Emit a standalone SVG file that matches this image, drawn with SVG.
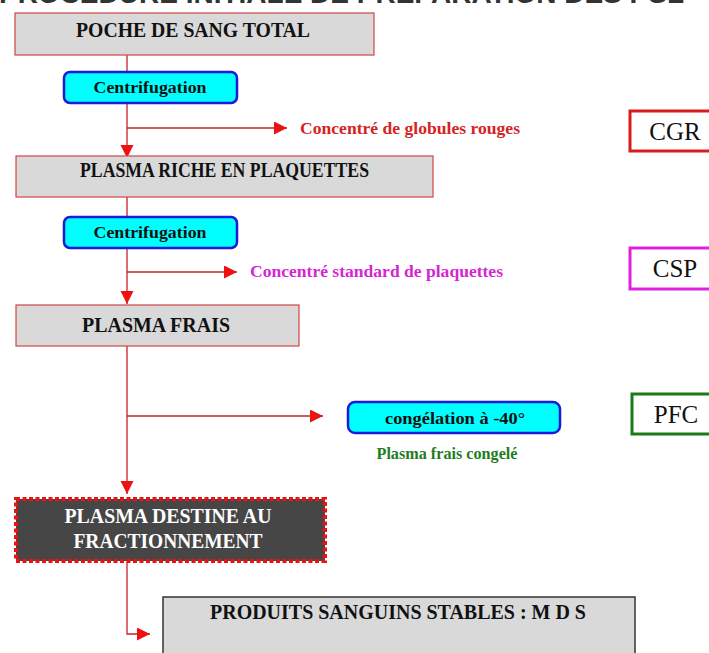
<svg xmlns="http://www.w3.org/2000/svg" width="709" height="653" viewBox="0 0 709 653">
<defs>
<style>
.gbox{fill:#d9d9d9;stroke:#d04545;stroke-width:1.2}
.cyan{fill:#00ffff;stroke:#1a1ad8;stroke-width:2.5}
.t{font-family:"Liberation Serif","Times New Roman",serif;font-weight:bold;fill:#111}
.lbl{font-family:"Liberation Serif","Times New Roman",serif;font-size:25px;fill:#111}
.tag{fill:#ffffff;stroke-width:3}
.conn{fill:none;stroke:#c8202a;stroke-width:1.3}
</style>
<marker id="ah" markerUnits="userSpaceOnUse" markerWidth="14" markerHeight="14" refX="13" refY="6.5" orient="auto">
<path d="M0,0 L13,6.5 L0,13 z" fill="#ee1111"/>
</marker>
</defs>
<rect width="709" height="653" fill="#ffffff"/>
<text x="684" y="3" text-anchor="end" font-family="Liberation Sans, Arial, sans-serif" font-weight="bold" font-size="28" fill="#333">PROCEDURE INITIALE DE PREPARATION DES PSL</text>

<g id="connectors">
<path class="conn" d="M127 55 V158" marker-end="url(#ah)"/>
<path class="conn" d="M127 197 V304" marker-end="url(#ah)"/>
<path class="conn" d="M127 346 V494" marker-end="url(#ah)"/>
<path class="conn" d="M127 128 H287" marker-end="url(#ah)"/>
<path class="conn" d="M127 272 H237" marker-end="url(#ah)"/>
<path class="conn" d="M127 416 H323" marker-end="url(#ah)"/>
<path class="conn" d="M127 562 V634 H150" marker-end="url(#ah)"/>
</g>

<g id="poche">
<rect class="gbox" x="15" y="13" width="359" height="42"/>
<text class="t" x="193" y="37" font-size="21" text-anchor="middle" textLength="234" lengthAdjust="spacingAndGlyphs">POCHE DE SANG TOTAL</text>
</g>

<g id="centrif1">
<rect class="cyan" x="64" y="72" width="173" height="31" rx="6"/>
<text class="t" x="150" y="93" font-size="17.5" text-anchor="middle" textLength="113" lengthAdjust="spacingAndGlyphs">Centrifugation</text>
</g>

<g id="cgr-label">
<text class="t" x="300" y="134" font-size="17.5" style="fill:#d42424" textLength="220" lengthAdjust="spacingAndGlyphs">Concentré de globules rouges</text>
</g>

<g id="cgr">
<rect class="tag" x="630" y="111" width="84" height="40" stroke="#d81c1c"/>
<text class="lbl" x="675" y="140" text-anchor="middle">CGR</text>
</g>

<g id="prp">
<rect class="gbox" x="16" y="156" width="417" height="41"/>
<text class="t" x="80" y="177" font-size="20" textLength="289" lengthAdjust="spacingAndGlyphs">PLASMA RICHE EN PLAQUETTES</text>
</g>

<g id="centrif2">
<rect class="cyan" x="64" y="217" width="173" height="31" rx="6"/>
<text class="t" x="150" y="238" font-size="17.5" text-anchor="middle" textLength="113" lengthAdjust="spacingAndGlyphs">Centrifugation</text>
</g>

<g id="csp-label">
<text class="t" x="250" y="277" font-size="17.5" style="fill:#d426d4" textLength="253" lengthAdjust="spacingAndGlyphs">Concentré standard de plaquettes</text>
</g>

<g id="csp">
<rect class="tag" x="630" y="248" width="84" height="41" stroke="#e020e0"/>
<text class="lbl" x="675" y="277" text-anchor="middle">CSP</text>
</g>

<g id="plasma-frais">
<rect class="gbox" x="16" y="305" width="283" height="41"/>
<text class="t" x="156" y="332" font-size="21" text-anchor="middle" textLength="148" lengthAdjust="spacingAndGlyphs">PLASMA FRAIS</text>
</g>

<g id="congelation">
<rect class="cyan" x="348" y="402" width="212" height="31" rx="7"/>
<text class="t" x="455" y="424" font-size="16" text-anchor="middle" textLength="140" lengthAdjust="spacingAndGlyphs">congélation à  -40°</text>
<text class="t" x="447" y="459" font-size="16.5" text-anchor="middle" style="fill:#1e7d1e" textLength="141" lengthAdjust="spacingAndGlyphs">Plasma frais congelé</text>
</g>

<g id="pfc">
<rect class="tag" x="632" y="394" width="82" height="40" stroke="#1a7a1a"/>
<text class="lbl" x="676" y="423" text-anchor="middle">PFC</text>
</g>

<g id="fractionnement">
<rect x="16" y="499" width="309" height="62" fill="#464646" stroke="#ee1111" stroke-width="4" stroke-dasharray="4 2.5"/>
<text class="t" x="168" y="523" font-size="21" text-anchor="middle" style="fill:#ffffff" textLength="207" lengthAdjust="spacingAndGlyphs">PLASMA DESTINE AU</text>
<text class="t" x="168" y="548" font-size="21" text-anchor="middle" style="fill:#ffffff" textLength="189" lengthAdjust="spacingAndGlyphs">FRACTIONNEMENT</text>
</g>

<g id="mds">
<rect x="163" y="597" width="472" height="70" fill="#d9d9d9" stroke="#333333" stroke-width="1.5"/>
<text class="t" x="210" y="619" font-size="20" textLength="376" lengthAdjust="spacingAndGlyphs">PRODUITS SANGUINS STABLES : M D S</text>
</g>
</svg>
